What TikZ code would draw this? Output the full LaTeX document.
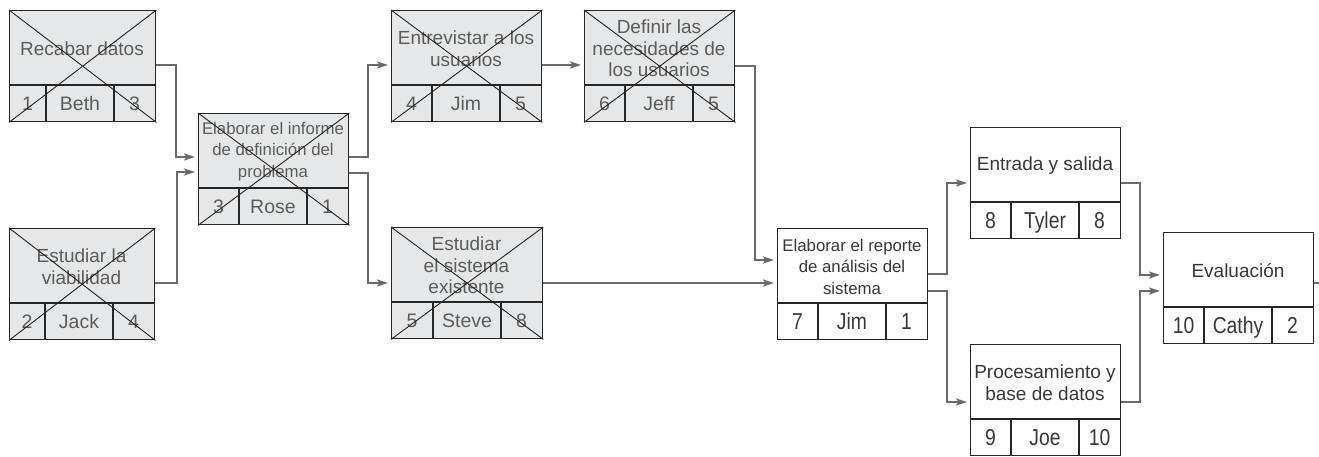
\documentclass[tikz,border=0pt]{standalone}
\usepackage{fontspec}
\setmainfont{Liberation Sans}
\newfontfamily\condfont{Liberation Sans}[FakeStretch=0.84]
\usetikzlibrary{arrows.meta,calc}
\definecolor{boxfill}{HTML}{E6E7E8}
\definecolor{linegray}{HTML}{6A6A6A}
\definecolor{txtgray}{HTML}{5C5C5C}
\definecolor{txtdark}{HTML}{383838}
\definecolor{edge}{HTML}{262626}
\newcommand\smtitle{\fontsize{16.8}{20.7}\selectfont}
\tikzset{
  taskbox/.style={draw=edge, line width=1.4pt, rectangle, inner sep=0pt,
    anchor=north west, minimum height=111pt},
  crossed/.style={fill=boxfill},
  plain/.style={fill=white},
  crossed-txt/.style={text=txtgray},
  plain-txt/.style={text=txtdark},
  crossed-cell/.style={text=txtgray, font=\fontsize{19.5}{21}\selectfont, text height=14pt, text depth=0pt},
  plain-cell/.style={text=txtdark, font=\condfont\fontsize{23}{24}\selectfont, text height=16.5pt, text depth=0pt},
  titletext/.style={align=center, inner sep=0pt, font=\fontsize{19}{21.5}\selectfont},
  cellline/.style={draw=edge, line width=1.4pt},
  crossline/.style={draw=edge!90!black, line width=0.9pt},
  conn/.style={draw=linegray, line width=2pt,
    -{Stealth[length=11pt,width=7pt,inset=2.5pt]}, shorten >=3pt},
  connplain/.style={draw=linegray, line width=2pt},
}
% #1 name, #2 x, #3 y, #4 width, #5 kind, #6 title, #7 #8 #9 cells
\newcommand\task[9]{%
  \node[taskbox,#5,minimum width=#4pt] (#1) at (#2,#3) {};
  \node[titletext,#5-txt] (#1-t) at ($(#1.north west)+({#4/2},38.5)$) {#6};
  \draw[cellline] ($(#1.north west)+(0,75)$) -- ($(#1.north east)+(0,75)$);
  \draw[cellline] ($(#1.north west)+({#4-109},75)$) -- ($(#1.south west)+({#4-109},0)$);
  \draw[cellline] ($(#1.north west)+({#4-41},75)$) -- ($(#1.south west)+({#4-41},0)$);
  \node[#5-cell] (#1-a) at ($(#1.north west)+({(#4-109)/2},93.5)$) {#7};
  \node[#5-cell] (#1-b) at ($(#1.north west)+({#4-75},93.5)$) {#8};
  \node[#5-cell] (#1-c) at ($(#1.north west)+({#4-20.5},93.5)$) {#9};
}
\newcommand\xcross[1]{%
  \draw[crossline] (#1.north west) -- (#1.south east);
  \draw[crossline] (#1.north east) -- (#1.south west);
}
\begin{document}
\begin{tikzpicture}[x=1pt,y=-1pt]
\useasboundingbox (0,0) rectangle (1319,457);

\coordinate (out) at (1319,283);

\task{recabar}{9}{10}{146}{crossed}{Recabar datos}{1}{Beth}{3}
\task{viab}{9}{228}{145}{crossed}{Estudiar la\\viabilidad}{2}{Jack}{4}
\task{informe}{198}{113}{150}{crossed}{\smtitle Elaborar el informe\\\smtitle de definición del\\\smtitle problema}{3}{Rose}{1}
\task{entrev}{391}{10}{150}{crossed}{Entrevistar a los\\usuarios}{4}{Jim}{5}
\task{defin}{584}{10}{150}{crossed}{Definir las\\necesidades de\\los usuarios}{6}{Jeff}{5}
\task{sistema}{391}{227}{151}{crossed}{Estudiar\\el sistema\\existente}{5}{Steve}{8}
\task{reporte}{777}{228}{150}{plain}{\smtitle Elaborar el reporte\\\smtitle de análisis del\\\smtitle sistema}{7}{Jim}{1}
\task{io}{970}{127}{150}{plain}{Entrada y salida}{8}{Tyler}{8}
\task{proc}{970}{344}{150}{plain}{Procesamiento y\\base de datos}{9}{Joe}{10}
\task{eval}{1163}{232}{150}{plain}{Evaluación}{10}{Cathy}{2}

\foreach \n in {recabar,viab,informe,entrev,defin,sistema}{\xcross{\n}}

\draw[conn] (recabar.east |- 0,65) -| (176,157) -- (informe.west |- 0,157);
\draw[conn] (viab.east |- 0,283) -| (177,172) -- (informe.west |- 0,172);
\draw[conn] (informe.east |- 0,157) -| (368,65) -- (entrev.west |- 0,65);
\draw[conn] (informe.east |- 0,173) -| (368,283) -- (sistema.west |- 0,283);
\draw[conn] (entrev.east |- 0,65) -- (defin.west |- 0,65);
\draw[conn] (defin.east |- 0,66) -| (755,260) -- (reporte.west |- 0,260);
\draw[conn] (sistema.east |- 0,283) -- (reporte.west |- 0,283);
\draw[conn] (reporte.east |- 0,274) -| (947,183) -- (io.west |- 0,183);
\draw[conn] (reporte.east |- 0,291) -| (947,402) -- (proc.west |- 0,402);
\draw[conn] (io.east |- 0,183) -| (1140,275) -- (eval.west |- 0,275);
\draw[conn] (proc.east |- 0,402) -| (1140,291) -- (eval.west |- 0,291);
\draw[connplain] (eval.east |- 0,283) -- (out);
\end{tikzpicture}
\end{document}
